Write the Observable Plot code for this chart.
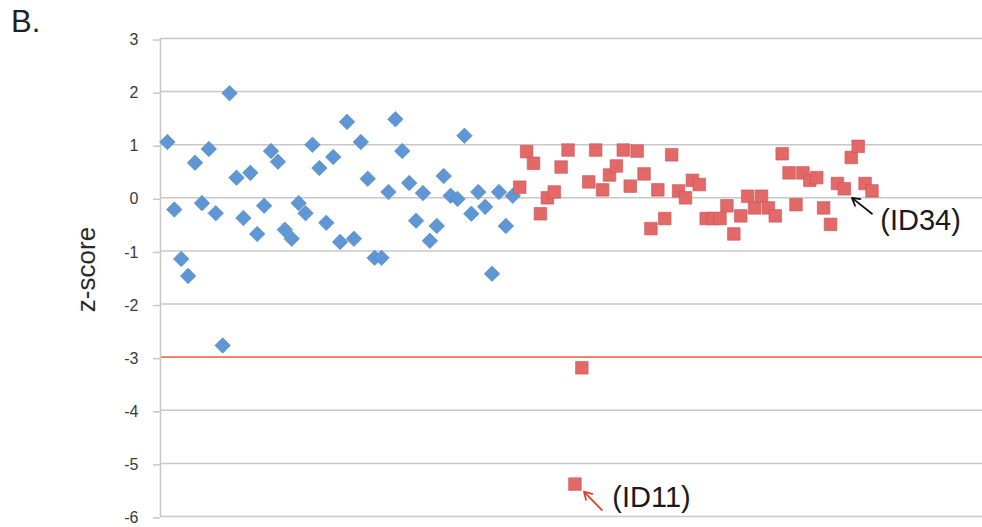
<!DOCTYPE html>
<html>
<head>
<meta charset="utf-8">
<script src="https://cdn.jsdelivr.net/npm/d3@7"></script>
<script src="https://cdn.jsdelivr.net/npm/@observablehq/plot@0.6"></script>
<style>
  html, body { margin: 0; padding: 0; background: #fff; }
  #wrap { position: relative; width: 982px; height: 527px; font-family: "Liberation Sans", Arial, sans-serif; }
  #panel { position: absolute; left: 11px; top: 4px; font-size: 31px; color: #222; }
</style>
</head>
<body>
<div id="wrap"><div id="panel">B.</div></div>
<script>
// Series 1 (blue diamonds) z-scores, in order
const blueZ = [1.05, -0.22, -1.15, -1.47, 0.66, -0.10, 0.92, -0.29, -2.78, 1.97,
  0.38, -0.38, 0.47, -0.68, -0.15, 0.88, 0.68, -0.60, -0.77, -0.10,
  -0.29, 1.00, 0.56, -0.47, 0.77, -0.83, 1.43, -0.77, 1.05, 0.36,
  -1.13, -1.13, 0.11, 1.48, 0.88, 0.28, -0.43, 0.09, -0.81, -0.53,
  0.41, 0.04, -0.02, 1.17, -0.30, 0.11, -0.17, -1.43, 0.11, -0.53, 0.04];
// Series 2 (red squares) z-scores, in order
const redZ = [0.20, 0.87, 0.65, -0.30, 0.00, 0.11, 0.58, 0.90, -5.39, -3.20,
  0.30, 0.90, 0.15, 0.43, 0.60, 0.90, 0.22, 0.88, 0.45, -0.58,
  0.15, -0.39, 0.81, 0.13, 0.00, 0.33, 0.25, -0.39, -0.39, -0.39,
  -0.15, -0.68, -0.34, 0.03, -0.19, 0.03, -0.19, -0.34, 0.83, 0.47,
  -0.13, 0.47, 0.33, 0.38, -0.19, -0.50, 0.27, 0.17, 0.76, 0.97, 0.27, 0.13];
const yTicks = [3, 2, 1, 0, -1, -2, -3, -4, -5, -6];
const threshold = -3;
const yLabel = "z-score";
// Annotations (labels, arrow tail -> head, in data units)
const annLabels = ["(ID34)", "(ID11)"];
const annTextX = [104.2, 65.4];
const annTextY = [-0.43, -5.64];
const annX1 = [103.0, 63.9];
const annY1 = [-0.30, -5.88];
const annX2 = [100.1, 61.3];
const annY2 = [0.0, -5.53];
const annColor = ["#111111", "#e8402a"];

const blue = blueZ.map((z, i) => ({i: i + 1, z}));
const red = redZ.map((z, i) => ({i: blueZ.length + i + 1, z}));
const ann = annLabels.map((label, k) => ({label, tx: annTextX[k], ty: annTextY[k],
  x1: annX1[k], y1: annY1[k], x2: annX2[k], y2: annY2[k], c: annColor[k]}));

const chart = Plot.plot({
  width: 982,
  height: 527,
  marginLeft: 160,
  marginRight: 0,
  marginTop: 38,
  marginBottom: 11,
  style: {fontFamily: "Liberation Sans, Arial, sans-serif", background: "transparent", overflow: "visible"},
  x: {domain: [0, 119], axis: null},
  y: {domain: [-6, 3], ticks: yTicks, label: null},
  marks: [
    Plot.gridY(yTicks, {stroke: "#c8c8c8", strokeOpacity: 1, strokeWidth: 1.5}),
    Plot.axisY(yTicks, {tickSize: 7, tickPadding: 15, stroke: "#c8c8c8", strokeWidth: 1.5,
      fill: "#3a3a3a", fontSize: 16, dy: 1.5, label: null, tickFormat: d => String(d).replace("−", "-")}),
    Plot.ruleY([threshold], {stroke: "#f07656", strokeWidth: 1.6}),
    Plot.ruleX([0], {stroke: "#c8c8c8", strokeWidth: 1.5}),
    Plot.dot(blue, {x: "i", y: "z", symbol: "diamond2", r: 7, fill: "#5f97d4", stroke: "#4f86c4", strokeWidth: 0.6}),
    Plot.dot(red, {x: "i", y: "z", symbol: "square", r: 7.1, fill: "#e36868", stroke: "#c95453", strokeWidth: 0.6}),
    Plot.arrow(ann, {x1: "x1", y1: "y1", x2: "x2", y2: "y2", stroke: "c", strokeWidth: 1.8, headLength: 9}),
    Plot.text(ann, {x: "tx", y: "ty", text: "label", textAnchor: "start", fontSize: 29, fill: "#1a1a1a"}),
    Plot.text([yLabel], {frameAnchor: "left", text: d => d, textAnchor: "middle", rotate: -90, dx: -74, dy: -8, fontSize: 26, fill: "#2a2a2a"})
  ]
});
document.getElementById("wrap").prepend(chart);
chart.style.position = "absolute";
chart.style.left = "0";
chart.style.top = "0";
</script>
</body>
</html>
